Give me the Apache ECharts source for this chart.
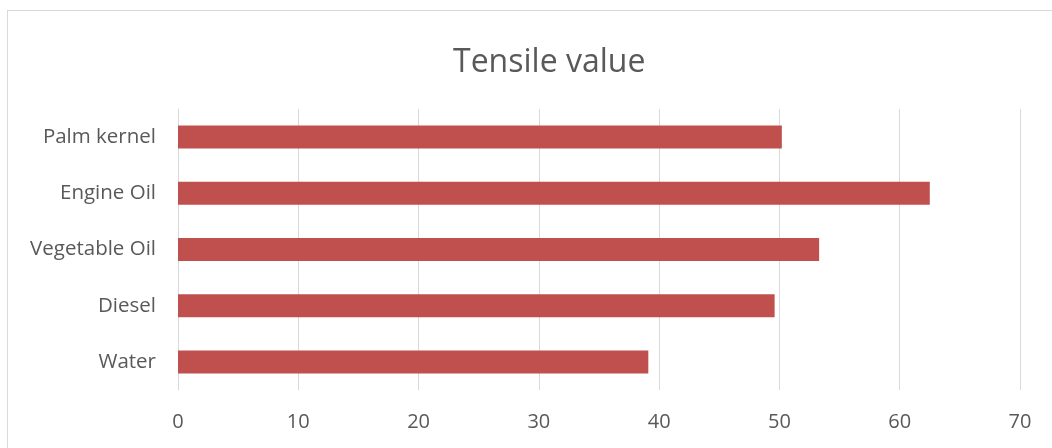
<!DOCTYPE html>
<html>
<head>
<meta charset="utf-8">
<script src="https://cdn.jsdelivr.net/npm/echarts@6/dist/echarts.min.js"></script>
<style>
  html, body { margin: 0; padding: 0; background: #ffffff; }
  #frame { position: absolute; left: 7px; top: 10px; width: 1045px; height: 450px; box-sizing: border-box; border: 1px solid #d9d9d9; border-right: none; border-bottom: none; }
  #chart { width: 1052px; height: 448px; position: absolute; left: 0; top: 0; }
</style>
</head>
<body>
<div id="frame"></div>
<div id="chart"></div>
<script>
// Tensile test results per immersion medium
const categories = ['Water', 'Diesel', 'Vegetable Oil', 'Engine Oil', 'Palm kernel'];
const tensileValues = [39.1, 49.6, 53.3, 62.5, 50.2];
const axisMin = 0;
const axisMax = 70;
const axisStep = 10;

const chart = echarts.init(document.getElementById('chart'), null, { renderer: 'canvas' });
const fontFamily = '"Open Sans", "Liberation Sans", sans-serif';

chart.setOption({
  animation: false,
  backgroundColor: 'transparent',
  title: {
    text: 'Tensile value',
    left: 448,
    top: 42,
    textStyle: { fontFamily: fontFamily, fontSize: 32, fontWeight: 'normal', color: '#595959' }
  },
  grid: { left: 178, right: 32, top: 109, bottom: 58, containLabel: false },
  xAxis: {
    type: 'value',
    min: axisMin,
    max: axisMax,
    interval: axisStep,
    axisLine: { show: false },
    axisTick: { show: false },
    splitLine: { show: true, lineStyle: { color: '#d9d9d9', width: 1 } },
    axisLabel: { fontFamily: fontFamily, fontSize: 20, color: '#595959', margin: 22 }
  },
  yAxis: {
    type: 'category',
    data: categories,
    axisLine: { show: true, lineStyle: { color: '#d9d9d9', width: 1 } },
    axisTick: { show: false },
    axisLabel: { fontFamily: fontFamily, fontSize: 20.5, color: '#595959', margin: 22 }
  },
  series: [{
    type: 'bar',
    data: tensileValues,
    barWidth: 23,
    itemStyle: { color: '#c0504d' }
  }]
});
</script>
</body>
</html>
